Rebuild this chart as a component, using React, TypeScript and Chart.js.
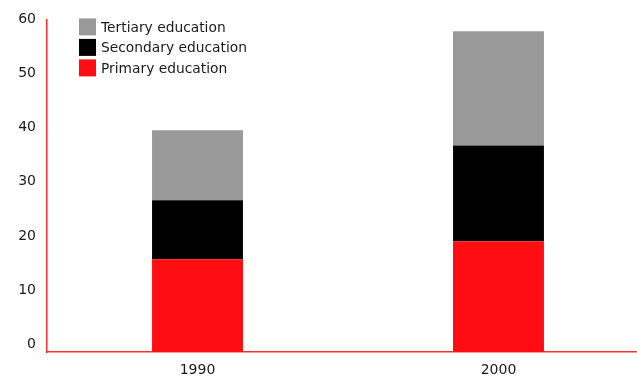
import React, { useEffect, useRef } from "react";
import { Chart, registerables } from "chart.js";

Chart.register(...registerables);

const categories = ["1990", "2000"];
const primary = [15.7, 19.0];
const secondary = [10.9, 17.7];
const tertiary = [12.9, 21.1];
const yTicks = [0, 10, 20, 30, 40, 50, 60];
const Y_MIN = -1.45;

const FONT = "'DejaVu Sans', sans-serif";

const legendPlugin = {
  id: "insideLegend",
  afterDraw(chart: any) {
    const { ctx, chartArea } = chart;
    const items = [...chart.data.datasets].reverse();
    const x0 = chartArea.left + 32;
    const y0 = chartArea.top - 1;
    ctx.save();
    ctx.font = `13.8px ${FONT}`;
    ctx.textBaseline = "middle";
    ctx.textAlign = "left";
    items.forEach((ds: any, i: number) => {
      const y = y0 + i * 20.5;
      ctx.fillStyle = ds.backgroundColor;
      ctx.fillRect(x0, y, 17, 17);
      ctx.fillStyle = "#1a1a1a";
      ctx.fillText(ds.label, x0 + 22, y + 10);
    });
    ctx.restore();
  },
};

export default function App() {
  const ref = useRef<HTMLCanvasElement>(null);
  useEffect(() => {
    if (!ref.current) return;
    const chart = new Chart(ref.current, {
      type: "bar",
      data: {
        labels: categories,
        datasets: [
          { label: "Primary education", data: primary, backgroundColor: "#ff0d12", base: Y_MIN } as any,
          { label: "Secondary education", data: secondary, backgroundColor: "#000000" },
          { label: "Tertiary education", data: tertiary, backgroundColor: "#999999" },
        ],
      },
      options: {
        animation: false,
        responsive: false,
        maintainAspectRatio: false,
        layout: { padding: { top: 18, right: 13, left: 0, bottom: 0 } },
        plugins: { legend: { display: false }, tooltip: { enabled: false }, title: { display: false } },
        datasets: { bar: { categoryPercentage: 1, barPercentage: 0.302 } },
        scales: {
          x: {
            stacked: true,
            grid: { display: false, drawTicks: false },
            border: { display: true, color: "#ff3030", width: 1.5 },
            ticks: { font: { family: FONT, size: 14 }, color: "#1a1a1a", padding: 10 },
            afterFit(axis: any) { axis.height = 26; },
          },
          y: {
            stacked: true,
            min: Y_MIN,
            max: 60,
            grid: { display: false, drawTicks: false },
            border: { display: true, color: "#ff3030", width: 1.5 },
            ticks: { font: { family: FONT, size: 14 }, color: "#1a1a1a", padding: 11 },
            afterBuildTicks(axis: any) { axis.ticks = yTicks.map((v) => ({ value: v })); },
            afterFit(axis: any) { axis.width = 47; },
          },
        },
      },
      plugins: [legendPlugin],
    });
    return () => chart.destroy();
  }, []);
  return (
    <div style={{ position: "absolute", left: 0, top: 0, width: 637, height: 378, overflow: "hidden", background: "#fff" }}>
      <canvas ref={ref} width={662} height={378} style={{ display: "block" }} />
    </div>
  );
}
